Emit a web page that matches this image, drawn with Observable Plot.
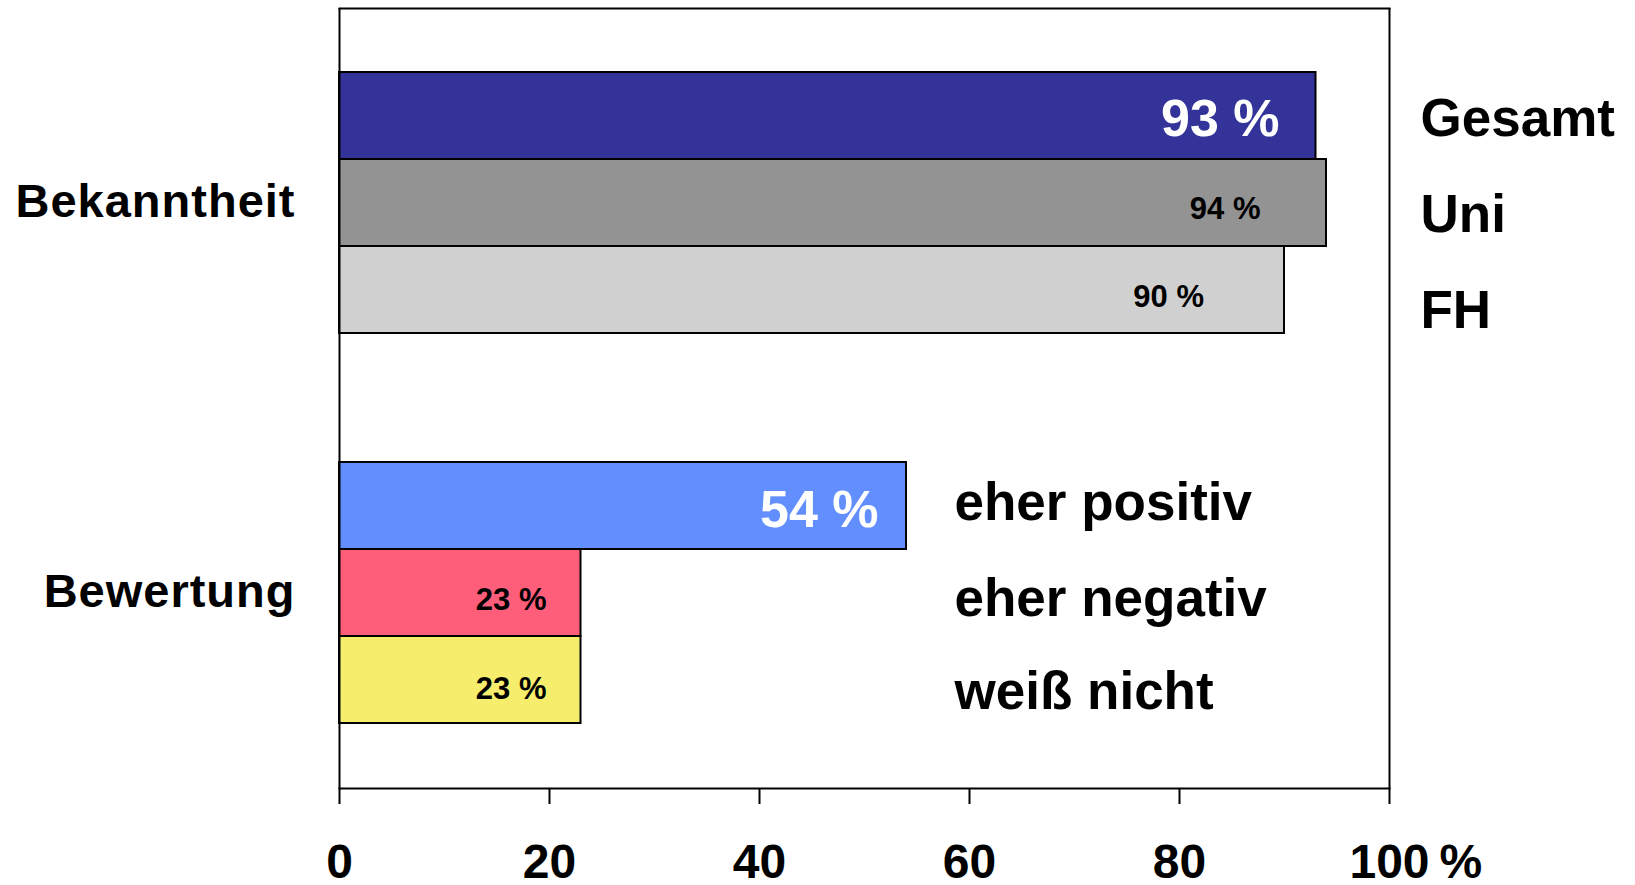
<!DOCTYPE html>
<html>
<head>
<meta charset="utf-8">
<script src="https://cdn.jsdelivr.net/npm/d3@7"></script>
<script src="https://cdn.jsdelivr.net/npm/@observablehq/plot@0.6"></script>
<style>
  html, body { margin: 0; padding: 0; background: #ffffff; overflow: hidden; }
  #chart svg [aria-label="fy-axis tick label"] text { letter-spacing: 1px; }
</style>
</head>
<body>
<div id="chart"></div>
<script>
// ---- data ----
const groups = ["Bekanntheit", "Bewertung"];
const bekanntheitCategories = ["Gesamt", "Uni", "FH"];
const bekanntheitValues = [93, 94, 90];
const bewertungCategories = ["eher positiv", "eher negativ", "weiß nicht"];
const bewertungValues = [54, 23, 23];
const xTicks = [0, 20, 40, 60, 80, 100];
const xUnit = "%";

// ---- styles (label nudges, colours) ----
const barColors = ["#333399", "#939393", "#d0d0d0", "#628efe", "#ff5e7a", "#f5ed6b"];
const topLabelDy = [3.5, 12.5, 21.5];
const bottomLabelDy = [-3, 6.5, 12.5];
const topValueDx = [-36.5, -66, -80.5];
const topValueDy = [3, 6, 7.2];
const bottomValueDx = [-28, -34.5, -34.5];
const bottomValueDy = [4, 7.2, 9];
const valueFill = ["#ffffff", "#000000", "#000000"];
const valueSize = [52, 31, 31];

const rows = [
  ...bekanntheitCategories.map((cat, i) => ({group: groups[0], cat, rank: i, value: bekanntheitValues[i]})),
  ...bewertungCategories.map((cat, i) => ({group: groups[1], cat, rank: i, value: bewertungValues[i]}))
];
const allCats = [...bekanntheitCategories, ...bewertungCategories];
const rowsTop = rows.filter(d => d.group === groups[0]);
const rowsBottom = rows.filter(d => d.group === groups[1]);
const pct = d => `${d.value} %`;
const xMax = xTicks[xTicks.length - 1];

const valueMarks = (subset, dxs, dys) => dxs.map((dx, r) =>
  Plot.text(subset.filter(d => d.rank === r), {x: "value", y: "rank", fy: "group", text: pct, textAnchor: "end", dx, dy: dys[r], fill: valueFill[r], fontSize: valueSize[r], fontWeight: "bold"}));

const chart = Plot.plot({
  width: 1635,
  height: 885,
  marginTop: 8,
  marginBottom: 97,
  marginLeft: 339,
  marginRight: 246,
  style: {fontFamily: "'Liberation Sans', Arial, sans-serif", fontWeight: "bold", background: "#ffffff", color: "#000000", overflow: "visible"},
  x: {domain: [xTicks[0], xMax]},
  y: {type: "band", domain: [0, 1, 2], padding: 0, insetTop: 63, insetBottom: 64.5, axis: null},
  fy: {domain: groups, padding: 0, axis: null},
  color: {domain: allCats, range: barColors},
  marks: [
    Plot.barX(rows, {x: "value", y: "rank", fy: "group", fill: "cat", stroke: "#000000", strokeWidth: 2}),
    // value labels
    ...valueMarks(rowsTop, topValueDx, topValueDy),
    ...valueMarks(rowsBottom, bottomValueDx, bottomValueDy),
    // category labels
    ...topLabelDy.map((dy, r) => Plot.text(rowsTop.filter(d => d.rank === r), {y: "rank", fy: "group", text: "cat", frameAnchor: "right", textAnchor: "start", dx: 31, dy, fontSize: 53, fontWeight: "bold", fill: "#000000"})),
    ...bottomLabelDy.map((dy, r) => Plot.text(rowsBottom.filter(d => d.rank === r), {y: "rank", fy: "group", text: "cat", frameAnchor: "left", textAnchor: "start", dx: 615, dy, fontSize: 53, fontWeight: "bold", fill: "#000000"})),
    // frame pieces
    Plot.ruleX([xTicks[0], xMax], {stroke: "#000000", strokeWidth: 2}),
    Plot.frame({anchor: "top", fy: groups[0], stroke: "#000000", strokeWidth: 2}),
    Plot.frame({anchor: "bottom", fy: groups[1], stroke: "#000000", strokeWidth: 2}),
    // axes
    Plot.axisX({anchor: "bottom", ticks: xTicks, tickSize: 16, tickPadding: 39, fontSize: 48, fontWeight: "bold", strokeWidth: 2, stroke: "#000000", fill: "#000000", label: null}),
    Plot.text([{group: groups[1], value: xMax, unit: xUnit}], {x: "value", fy: "group", text: "unit", frameAnchor: "bottom", textAnchor: "start", lineAnchor: "top", dx: 50, dy: 55, fontSize: 48, fontWeight: "bold", fill: "#000000"}),
    Plot.axisFy({anchor: "left", tickSize: 0, tickPadding: 44, dy: -2, fontSize: 47, fontWeight: "bold", fill: "#000000", label: null})
  ]
});
document.getElementById("chart").append(chart);
</script>
</body>
</html>
